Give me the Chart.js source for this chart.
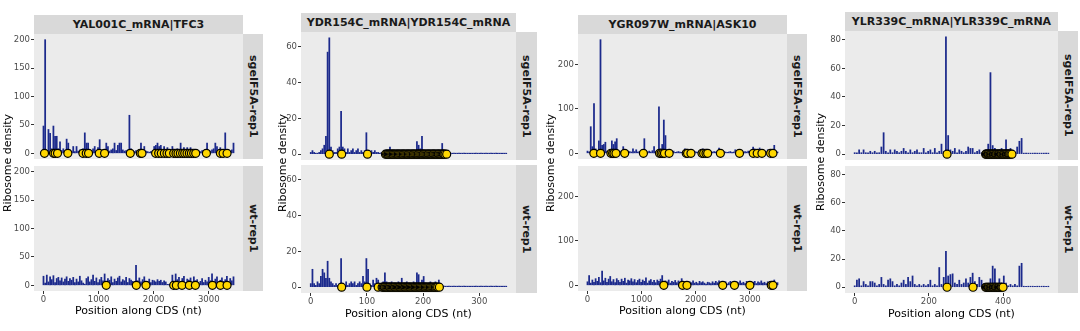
<!DOCTYPE html>
<html>
<head>
<meta charset="utf-8">
<script src="https://cdn.jsdelivr.net/npm/chart.js@4.4.1/dist/chart.umd.min.js"></script>
<style>
  body { margin: 0; background: #fff; width: 1080px; height: 331px; position: relative; overflow: hidden; font-family: 'DejaVu Sans', sans-serif; }
  canvas, .strip, .side, .ytitle, .xtitle { position: absolute; }
  .strip { background: #d9d9d9; color: #1a1a1a; font-weight: bold; font-size: 11px; display: flex; align-items: center; justify-content: center; }
  .side { background: #d9d9d9; color: #1a1a1a; font-weight: bold; font-size: 11px; writing-mode: vertical-rl; display: flex; align-items: center; justify-content: center; }
  .ytitle { font-size: 11px; color: #000; transform: rotate(-90deg); white-space: nowrap; text-align: center; width: 130px; height: 14px; line-height: 14px; }
  .xtitle { font-size: 11px; color: #000; white-space: nowrap; text-align: center; width: 200px; height: 14px; line-height: 14px; }
</style>
</head>
<body>
<script>
// genes / samples
const GENES = ['YAL001C_mRNA|TFC3', 'YDR154C_mRNA|YDR154C_mRNA', 'YGR097W_mRNA|ASK10', 'YLR339C_mRNA|YLR339C_mRNA']
const SAMPLES = ['sgeIF5A-rep1', 'wt-rep1']

// nt per density point
const BINS = [30, 3, 30, 6]

// ribosome density, one value per bin
const yal001cSge = [48, 200, 5, 42, 35, 8, 48, 30, 30, 8, 20, 5, 8, 4, 25, 18, 6, 4, 12, 3,
  12, 4, 6, 5, 8, 36, 18, 18, 6, 4, 8, 12, 4, 10, 24, 4, 6, 6, 18, 12,
  4, 6, 8, 18, 5, 14, 18, 18, 6, 4, 5, 6, 67, 8, 4, 3, 5, 4, 6, 18,
  6, 12, 4, 3, 2, 3, 4, 12, 14, 18, 12, 14, 6, 12, 5, 10, 6, 4, 12, 5,
  6, 8, 6, 18, 6, 10, 4, 10, 6, 10, 4, 3, 2, 3, 4, 3, 5, 4, 6, 18,
  5, 4, 6, 8, 18, 12, 5, 10, 4, 6, 36, 5, 4, 3, 6, 18]
const yal001cWt = [16, 4, 18, 6, 15, 10, 17, 5, 12, 14, 8, 13, 6, 11, 15, 7, 12, 9, 14, 5,
  11, 6, 16, 8, 4, 2, 12, 15, 6, 10, 18, 7, 13, 5, 10, 14, 8, 20, 6, 12,
  9, 15, 5, 11, 7, 13, 16, 6, 10, 8, 14, 5, 12, 9, 7, 4, 35, 8, 13, 6,
  10, 15, 4, 7, 11, 5, 9, 8, 6, 10, 7, 9, 5, 8, 6, 1, 1, 2, 18, 6,
  20, 10, 14, 7, 12, 16, 5, 11, 9, 13, 6, 15, 8, 10, 4, 7, 12, 5, 9, 6,
  14, 8, 20, 6, 11, 15, 5, 9, 13, 7, 10, 16, 6, 12, 8, 15]
const ydr154cSge = [1, 2, 1, 0.5, 0.5, 1, 2, 3, 5, 10, 57, 65, 4, 2, 1, 1, 3, 4, 24, 4,
  3, 1, 3, 1, 2, 3, 1, 2, 3, 1, 2, 1, 2, 12, 2, 1, 2, 1, 2, 1,
  1, 0.5, 1, 1, 1, 2, 1, 4, 1, 2, 1, 2, 1, 2, 1, 2, 1, 2, 1, 1,
  2, 1, 2, 7, 5, 3, 10, 2, 1, 2, 1, 2, 1, 2, 1, 2, 1, 2, 6, 1,
  1, 0.3, 0.3, 0.2, 0.4, 0.3, 0.2, 0.3, 0.4, 0.2, 0.3, 0.3, 0.2, 0.4, 0.3, 0.2, 0.3, 0.4, 0.3, 0.2,
  0.3, 0.3, 0.4, 0.2, 0.3, 0.3, 0.2, 0.4, 0.3, 0.2, 0.3, 0.3, 0.4, 0.2, 0.3, 0.3, 0.2]
const ydr154cWt = [2, 10, 2, 1, 3, 2, 6, 10, 8, 5, 14.5, 5, 3, 2, 1, 2, 1, 2, 16, 2,
  1, 3, 1, 2, 3, 2, 3, 1, 2, 3, 2, 6, 3, 16, 10, 2, 1, 4, 2, 5,
  4, 1, 2, 3, 8, 3, 2, 1, 3, 2, 1, 2, 3, 1, 5, 2, 1, 3, 2, 1,
  2, 3, 2, 8, 7, 2, 4, 6, 2, 1, 2, 3, 1, 2, 3, 1, 4, 1,
  0.3, 0.2, 0.3, 0.4, 0.2, 0.3, 0.3, 0.2, 0.4, 0.3, 0.2, 0.3, 0.3, 0.4, 0.2, 0.3, 0.3, 0.2, 0.4, 0.3,
  0.2, 0.3, 0.3, 0.4, 0.2, 0.3, 0.3, 0.2, 0.4, 0.3, 0.2, 0.3, 0.3, 0.4, 0.2, 0.3, 0.3, 0.2, 0.3]
const ygr097wSge = [5, 3, 60, 15, 112, 10, 4, 28, 256, 18, 20, 25, 5, 4, 8, 28, 20, 26, 33, 5,
  4, 6, 15, 4, 3, 5, 4, 3, 10, 4, 8, 3, 4, 5, 6, 33, 4, 3, 5, 3,
  6, 15, 4, 3, 105, 10, 20, 75, 40, 5, 3, 4, 3, 5, 2, 3, 4, 3, 2, 4,
  10, 8, 3, 4, 2, 3, 4, 3, 2, 5, 8, 10, 3, 2, 4, 3, 2, 3, 4, 3,
  5, 12, 3, 2, 4, 3, 2, 3, 4, 2, 3, 8, 3, 2, 4, 3, 2, 4, 3, 5,
  3, 4, 14, 10, 3, 4, 12, 3, 4, 2, 3, 8, 4, 3, 6, 18, 5, 3]
const ygr097wWt = [8, 22, 5, 12, 7, 15, 9, 18, 6, 32, 10, 16, 7, 14, 20, 8, 13, 6, 15, 11,
  7, 14, 9, 16, 5, 12, 10, 15, 8, 13, 6, 11, 14, 7, 12, 9, 17, 5, 10, 13,
  7, 11, 6, 12, 9, 14, 22, 6, 10, 8, 12, 5, 9, 7, 11, 6, 10, 8, 15, 5,
  9, 7, 4, 8, 6, 10, 5, 7, 4, 9, 6, 8, 5, 3, 7, 6, 4, 8, 5, 9,
  6, 10, 4, 7, 5, 8, 3, 6, 9, 5, 7, 4, 8, 6, 10, 5, 7, 4, 9, 6,
  8, 5, 7, 9, 4, 8, 6, 10, 5, 7, 4, 8, 6, 9, 5, 12, 4, 6]
const ylr339cSge = [1, 1, 3, 1, 3, 1, 1, 2, 1, 2, 1, 1, 5, 15, 2, 1, 3, 1, 3, 2,
  1, 2, 4, 2, 1, 3, 1, 2, 3, 1, 1, 4, 1, 2, 3, 1, 4, 1, 2, 7,
  2, 82, 13, 3, 2, 4, 1, 3, 2, 1, 2, 5, 4, 4, 1, 2, 3, 1, 2, 3,
  7, 57, 6, 4, 2, 3, 4, 2, 10, 3, 4, 2, 1, 5, 9, 11,
  0.5, 0.3, 0.5, 0.3, 0.5, 0.3, 0.5, 0.3, 0.5, 0.3, 0.5, 0.3]
const ylr339cWt = [1, 5, 6, 1, 4, 2, 1, 4, 4, 3, 1, 2, 7, 2, 1, 5, 6, 4, 1, 2,
  1, 3, 5, 2, 7, 4, 8, 2, 1, 2, 1, 2, 1, 2, 5, 1, 2, 1, 14, 2,
  7, 25.5, 8, 9, 9.5, 3, 2, 5, 2, 3, 6, 3, 7, 10, 4, 2, 7, 5, 2, 1,
  2, 6, 15, 13, 2, 6, 3, 8, 3, 1, 2, 1, 2, 1, 15, 17,
  0.3, 0.2, 0.3, 0.2, 0.3, 0.2, 0.3, 0.2, 0.3, 0.2, 0.3, 0.2]

// marked sites along the CDS (nt)
const yal001cSgeSites = [18, 182, 212, 255, 442, 715, 776, 818, 1012, 1109, 1576, 1758, 1788, 2036, 2091, 2139,
  2194, 2242, 2285, 2364, 2406, 2442, 2485, 2527, 2564, 2606, 2648, 2685, 2727, 2764, 2958, 3212, 3261, 3333]
const yal001cWtSites = [1139, 1685, 1861, 2364, 2412, 2515, 2648, 2758, 3067, 3212, 3333]
const ydr154cSgeSites = [33, 55, 101, 133, 135, 137, 138, 140, 142, 144, 146, 147, 149, 151, 153, 155, 156, 158,
  160, 162, 164, 165, 167, 169, 171, 173, 174, 176, 178, 180, 182, 183, 185, 187, 189, 191, 192, 194, 196, 198,
  200, 201, 203, 205, 207, 209, 210, 212, 214, 216, 218, 219, 221, 223, 225, 227, 228, 230, 232, 234, 236, 237, 239, 242]
const ydr154cWtSites = [55, 100, 120, 127, 129, 131, 132, 134, 136, 138, 140, 141, 143, 145, 147, 149, 150, 152,
  154, 156, 158, 159, 161, 163, 165, 167, 168, 170, 172, 174, 176, 177, 179, 181, 183, 185, 186, 188, 190, 192,
  194, 195, 197, 199, 201, 203, 204, 206, 208, 210, 212, 213, 215, 217, 219, 221, 222, 224, 226, 229]
const ygr097wSgeSites = [117, 241, 433, 464, 489, 526, 687, 1033, 1330, 1360, 1391, 1422, 1509, 1824, 1849, 1911,
  2115, 2146, 2189, 2220, 2455, 2808, 3061, 3135, 3222, 3383, 3426]
const ygr097wWtSites = [1410, 1756, 1837, 2498, 2715, 3000, 3395, 3426]
const ylr339cSgeSites = [249, 353, 355, 358, 360, 362, 365, 367, 369, 372, 374, 376, 379, 381, 383, 386, 388, 390,
  393, 395, 397, 400, 402, 404, 407, 409, 411, 414, 416, 418, 421, 424]
const ylr339cWtSites = [249, 319, 353, 355, 358, 360, 362, 365, 367, 369, 372, 374, 376, 379, 381, 383, 386, 388,
  390, 393, 395, 397, 400]

// tick labels
const X_TICKS = [[0, 1000, 2000, 3000], [0, 100, 200, 300], [0, 1000, 2000, 3000], [0, 200, 400]]
const Y_TICKS = [[0, 50, 100, 150, 200], [0, 20, 40, 60], [0, 100, 200], [0, 20, 40, 60, 80]]

const DENSITY = [[yal001cSge, yal001cWt], [ydr154cSge, ydr154cWt], [ygr097wSge, ygr097wWt], [ylr339cSge, ylr339cWt]]
const SITES = [[yal001cSgeSites, yal001cWtSites], [ydr154cSgeSites, ydr154cWtSites],
  [ygr097wSgeSites, ygr097wWtSites], [ylr339cSgeSites, ylr339cWtSites]]

// page layout, one entry per gene
const COLS = [
  { x: 34,  w: 209, titleY: 15, titleH: 19, topY: 34, topH: 125, botY: 166, botH: 125, sideW: 20, yTitleX: 8,   xTitleY: 311 },
  { x: 301, w: 215, titleY: 13, titleH: 19, topY: 32, topH: 128, botY: 165, botH: 128, sideW: 21, yTitleX: 283, xTitleY: 314 },
  { x: 578, w: 209, titleY: 15, titleH: 19, topY: 34, topH: 125, botY: 166, botH: 125, sideW: 20, yTitleX: 551, xTitleY: 311 },
  { x: 845, w: 213, titleY: 12, titleH: 19, topY: 31, topH: 129, botY: 166, botH: 127, sideW: 20, yTitleX: 821, xTitleY: 314 }
]
const Y_AXIS_W = 34
const X_AXIS_H = 14
const LINE = '#1c2a8c'
const TICK_FONT = { family: 'DejaVu Sans', size: 8.5 }

// grey panel behind the data
const panelBg = {
  id: 'panelBg',
  beforeDraw(chart) {
    const { ctx, chartArea: a } = chart
    ctx.save()
    ctx.fillStyle = '#ebebeb'
    ctx.fillRect(a.left, a.top, a.right - a.left, a.bottom - a.top)
    ctx.restore()
  }
}

// ggplot-style 5% padding on both ends
function expand(lo, hi) {
  const d = (hi - lo) * 0.05
  return [lo - d, hi + d]
}

function addBox(cls, left, top, w, h, text) {
  const el = document.createElement('div')
  el.className = cls
  el.style.left = left + 'px'
  el.style.top = top + 'px'
  if (w != null) el.style.width = w + 'px'
  if (h != null) el.style.height = h + 'px'
  el.textContent = text
  document.body.appendChild(el)
  return el
}

function drawPanel(ci, row) {
  const g = COLS[ci]
  const bin = BINS[ci]
  const isBottom = row === 1
  const vals = DENSITY[ci][row]
  const xr = expand(0, (Math.max(DENSITY[ci][0].length, DENSITY[ci][1].length) - 1) * bin)
  const yr = expand(0, Math.max(...DENSITY[ci][0], ...DENSITY[ci][1]))

  const canvas = document.createElement('canvas')
  const cw = g.w + Y_AXIS_W
  const ch = (isBottom ? g.botH + X_AXIS_H : g.topH)
  canvas.width = cw
  canvas.height = ch
  canvas.style.left = (g.x - Y_AXIS_W) + 'px'
  canvas.style.top = (isBottom ? g.botY : g.topY) + 'px'
  canvas.style.width = cw + 'px'
  canvas.style.height = ch + 'px'
  document.body.appendChild(canvas)

  new Chart(canvas, {
    type: 'scatter',
    data: {
      datasets: [
        {
          type: 'scatter',
          data: SITES[ci][row].map(p => ({ x: p, y: 0 })),
          pointRadius: 4,
          pointBorderWidth: 1.2,
          pointBackgroundColor: '#ffd700',
          pointBorderColor: '#000',
          clip: 6,
          order: 0
        },
        {
          // one thin spike per bin
          type: 'bar',
          data: vals.map((v, i) => ({ x: i * bin, y: v })),
          backgroundColor: LINE,
          borderWidth: 0,
          barThickness: 1.1,
          minBarLength: 1,
          grouped: false,
          order: 1
        }
      ]
    },
    options: {
      responsive: false,
      animation: false,
      events: [],
      layout: { padding: 0, autoPadding: false },
      plugins: { legend: { display: false }, tooltip: { enabled: false } },
      scales: {
        x: {
          type: 'linear',
          min: xr[0],
          max: xr[1],
          offset: false,
          display: isBottom,
          afterBuildTicks: s => { s.ticks = X_TICKS[ci].map(v => ({ value: v })) },
          afterFit: s => {
            if (isBottom) s.height = X_AXIS_H
            s.paddingLeft = 0; s.paddingRight = 0
          },
          grid: { offset: false, drawOnChartArea: false, drawTicks: true, tickLength: 3, color: '#333333', tickColor: '#333333' },
          border: { display: false },
          ticks: { callback: v => String(v), color: '#4d4d4d', font: TICK_FONT, padding: 1, maxRotation: 0, autoSkip: false }
        },
        y: {
          type: 'linear',
          min: yr[0],
          max: yr[1],
          afterBuildTicks: s => { s.ticks = Y_TICKS[ci].map(v => ({ value: v })) },
          afterFit: s => {
            s.width = Y_AXIS_W
            s.paddingTop = 0; s.paddingBottom = 0
          },
          grid: { drawOnChartArea: false, drawTicks: true, tickLength: 3, color: '#333333', tickColor: '#333333' },
          border: { display: false },
          ticks: { callback: v => String(v), color: '#4d4d4d', font: TICK_FONT, padding: 1, autoSkip: false }
        }
      }
    },
    plugins: [panelBg]
  })

  // sample strip on the right
  const py = isBottom ? g.botY : g.topY
  const ph = isBottom ? g.botH : g.topH
  addBox('side', g.x + g.w, py, g.sideW, ph, SAMPLES[row])
}

COLS.forEach((g, ci) => {
  addBox('strip', g.x, g.titleY, g.w, g.titleH, GENES[ci])
  drawPanel(ci, 0)
  drawPanel(ci, 1)

  const midY = (g.topY + g.botY + g.botH) / 2
  addBox('ytitle', g.yTitleX - 65, midY - 7, null, null, 'Ribosome density')
  addBox('xtitle', g.x + g.w / 2 - 100, g.xTitleY - 7, null, null, 'Position along CDS (nt)')
})
</script>
</body>
</html>
